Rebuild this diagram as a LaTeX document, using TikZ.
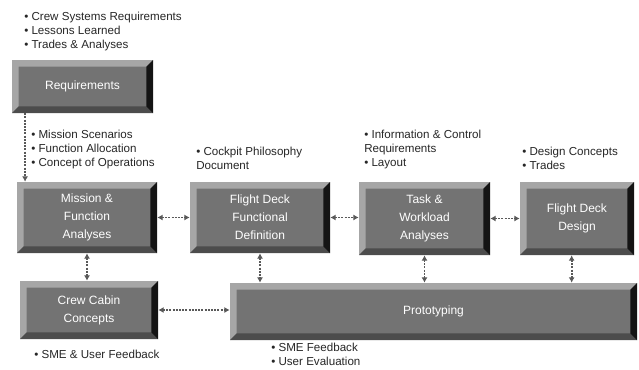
\documentclass[tikz,border=0pt]{standalone}
\usepackage{fontspec}
\setmainfont{Liberation Sans}
\usetikzlibrary{arrows.meta}
\tikzset{
  bevbox/.style={inner sep=0pt, align=center, text=white,
    font=\fontsize{9}{13.5}\selectfont, fill=black!55,
    path picture={
      \coordinate (@sw) at (path picture bounding box.south west);
      \coordinate (@ne) at (path picture bounding box.north east);
      \coordinate (@nw) at (@sw|-@ne);
      \coordinate (@se) at (@ne|-@sw);
      \fill[black!35] (@sw) -- (@nw) -- (@ne) -- ([shift={(-5pt,-5pt)}]@ne)
        -- ([shift={(5pt,-5pt)}]@nw) -- ([shift={(5pt,5pt)}]@sw) -- cycle;
      \fill[black!70] (@sw) -- (@se) -- ([shift={(-5pt,5pt)}]@se)
        -- ([shift={(5pt,5pt)}]@sw) -- cycle;
      \fill[black!92] (@ne) -- (@se) -- ([shift={(-5pt,5pt)}]@se)
        -- ([shift={(-5pt,-5pt)}]@ne) -- cycle;
    }},
  link/.style={densely dotted, line width=1.4pt, black!65,
    {Latex[length=4pt,width=4.5pt]}-{Latex[length=4pt,width=4.5pt]}},
  link1/.style={densely dotted, line width=1.4pt, black!65,
    -{Latex[length=4pt,width=4.5pt]}},
  note/.style={inner sep=0pt, anchor=north west, align=left,
    font=\fontsize{8.7}{10.3}\selectfont, text=black!85},
}
\newcommand{\bx}[6]{%
  \node[bevbox, minimum width={(#4-#2)*0.75pt}, minimum height={(#5-#3)*0.75pt}]
    (#1) at ({(#2+#4)/2},{(#3+#5)/2}) {#6};}
\begin{document}
\begin{tikzpicture}[x=0.75pt,y=-0.75pt]
\useasboundingbox (0,0) rectangle (639,369);
\bx{req}{12}{60}{153}{113}{Requirements}
\bx{mis}{17}{182}{157}{253}{Mission \&\\Function\\Analyses}
\bx{fdf}{190}{182}{330}{253}{Flight Deck\\Functional\\Definition}
\bx{task}{359}{182}{490}{255}{Task \&\\Workload\\Analyses}
\bx{fdd}{520}{182}{634}{255}{Flight Deck\\Design}
\bx{crew}{20}{281}{158}{339}{Crew Cabin\\Concepts}
\bx{proto}{230}{283}{637}{340}{Prototyping}

\node[note] (n1) at (24,12) {• Crew Systems Requirements\\• Lessons Learned\\• Trades \& Analyses};
\node[note] (n2) at (31,130) {• Mission Scenarios\\• Function Allocation\\• Concept of Operations};
\node[note] (n3) at (196,147) {• Cockpit Philosophy\\Document};
\node[note] (n4) at (364,130) {• Information \& Control\\Requirements\\• Layout};
\node[note] (n5) at (522,147) {• Design Concepts\\• Trades};
\node[note] (n6) at (34,350) {• SME \& User Feedback};
\node[note] (n7) at (271,343) {• SME Feedback\\• User Evaluation};

\coordinate (rq) at ([xshift=10pt]req.south west);
\draw[link1] (rq) -- (rq|-mis.north);
\draw[link] (mis.east) -- (fdf.west);
\draw[link] (fdf.east) -- (task.west|-fdf.east);
\draw[link] (task.east) -- (fdd.west);
\draw[link] (mis.south) -- (mis.south|-crew.north);
\draw[link] (fdf.south) -- (fdf.south|-proto.north);
\draw[link] (task.south) -- (task.south|-proto.north);
\draw[link] ([xshift=-4pt]fdd.south) -- ([xshift=-4pt]fdd.south|-proto.north);
\draw[link] (crew.east) -- (crew.east-|proto.west);
\end{tikzpicture}
\end{document}
